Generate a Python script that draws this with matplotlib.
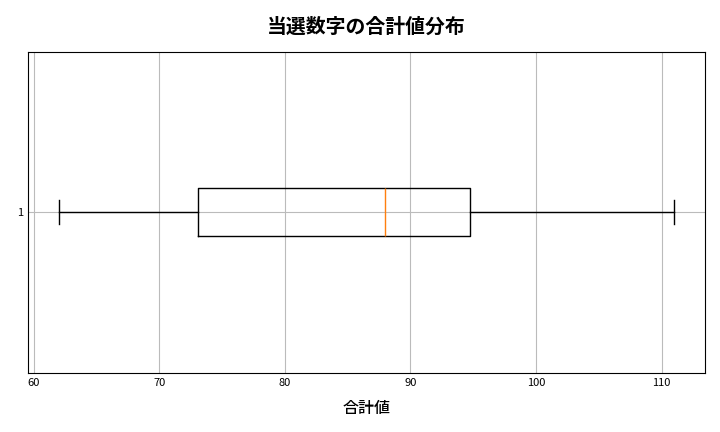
import matplotlib
matplotlib.use("Agg")
import matplotlib.pyplot as plt

plt.rcParams['font.family'] = ['Noto Sans CJK JP', 'DejaVu Sans']

# summary of the distribution of winning-number sums
labels = ["1"]
whislo = [62]
q1 = [73.05]
med = [88]
q3 = [94.75]
whishi = [111]

stats = [
    {"label": labels[i], "whislo": whislo[i], "q1": q1[i], "med": med[i],
     "q3": q3[i], "whishi": whishi[i], "fliers": []}
    for i in range(len(labels))
]

fig, ax = plt.subplots(figsize=(7.2, 4.32), dpi=100)
ax.bxp(stats, vert=False, showfliers=False)
ax.set_title("当選数字の合計値分布", fontsize=14.3, fontweight="bold", pad=14)
ax.set_xlabel("合計値", fontsize=11.5, fontweight="medium", labelpad=9)
ax.grid(True, color="#bbbbbb", linewidth=0.8)
ax.set_axisbelow(True)
ax.tick_params(labelsize=8, length=0)
fig.subplots_adjust(left=0.039, right=0.979, top=0.88, bottom=0.137)
fig.savefig("out.png", dpi=100)
